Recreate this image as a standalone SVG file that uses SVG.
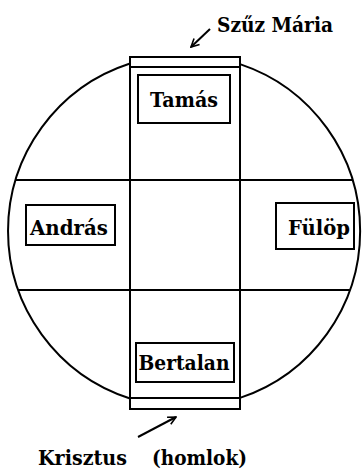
<svg xmlns="http://www.w3.org/2000/svg" width="362" height="470" viewBox="0 0 362 470">
<style>
.ln{fill:none;stroke:#000;stroke-width:2}
.bx{fill:#fff;stroke:#000;stroke-width:2}
text{font-family:'DejaVu Serif','Liberation Serif',serif;font-weight:bold;font-size:21px;fill:#000}
</style>
<defs>
<marker id="ah" viewBox="0 0 10 10" refX="9" refY="5" markerWidth="10" markerHeight="10" markerUnits="userSpaceOnUse" orient="auto">
<path d="M1,1 L9,5 L1,9" fill="none" stroke="#000" stroke-width="1.6"/>
</marker>
</defs>
<rect width="362" height="470" fill="#fff"/>
<g id="connectors">
<path class="ln" d="M130,63.5 A176,176 0 0 0 130,398.5"/>
<path class="ln" d="M240,64.1 A176,176 0 0 1 240,397.9"/>
<line class="ln" x1="15.6" y1="180" x2="352.4" y2="180"/>
<line class="ln" x1="18.2" y1="290" x2="349.8" y2="290"/>
<rect class="ln" x="130" y="57" width="110" height="352"/>
<line class="ln" x1="130" y1="67" x2="240" y2="67"/>
<line class="ln" x1="130" y1="398" x2="240" y2="398"/>
<line class="ln" x1="210" y1="29" x2="191" y2="47" marker-end="url(#ah)"/>
<line class="ln" x1="138" y1="437" x2="176" y2="417" marker-end="url(#ah)"/>
</g>
<g id="tamas">
<rect class="bx" x="138" y="75" width="92" height="48"/>
<text x="184" y="107" text-anchor="middle" textLength="68" lengthAdjust="spacingAndGlyphs">Tamás</text>
</g>
<g id="andras">
<rect class="bx" x="26" y="205" width="89" height="40"/>
<text x="69" y="235" text-anchor="middle" textLength="78" lengthAdjust="spacingAndGlyphs">András</text>
</g>
<g id="fulop">
<rect class="bx" x="276" y="203" width="78" height="46"/>
<text x="319" y="235" text-anchor="middle" textLength="62" lengthAdjust="spacingAndGlyphs">Fülöp</text>
</g>
<g id="bertalan">
<rect class="bx" x="136" y="343" width="98" height="39"/>
<text x="184" y="370" text-anchor="middle" textLength="91" lengthAdjust="spacingAndGlyphs">Bertalan</text>
</g>
<g id="szuz-maria">
<text x="217" y="32" textLength="116" lengthAdjust="spacingAndGlyphs">Szűz Mária</text>
</g>
<g id="krisztus">
<text x="38" y="465" textLength="89" lengthAdjust="spacingAndGlyphs">Krisztus</text>
<text x="152" y="465" textLength="95" lengthAdjust="spacingAndGlyphs">(homlok)</text>
</g>
</svg>
